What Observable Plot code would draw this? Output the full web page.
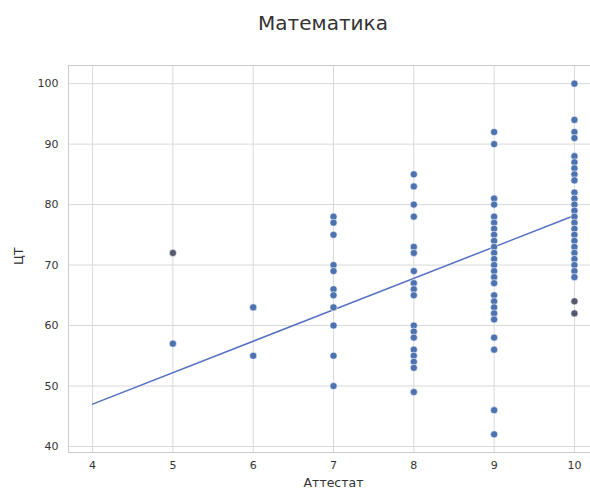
<!DOCTYPE html>
<html><head><meta charset="utf-8">
<script src="https://cdn.jsdelivr.net/npm/d3@7"></script>
<script src="https://cdn.jsdelivr.net/npm/@observablehq/plot@0.6"></script>
<style>
body{margin:0;background:#fff;font-family:"DejaVu Sans",sans-serif;}
#title{width:590px;height:50px;box-sizing:border-box;padding-left:56px;text-align:center;font-size:20px;line-height:46px;color:#333;}
</style></head><body>
<div id="title">Математика</div>
<div id="chart"></div>
<script>
// ЦТ scores per Аттестат grade (main colour)
const ct5 = [57];
const ct6 = [63, 55];
const ct7 = [78, 77, 75, 70, 69, 66, 65, 63, 60, 55, 50];
const ct8 = [85, 83, 80, 78, 73, 72, 69, 67, 66, 65, 60, 59, 58, 56, 55, 54, 53, 49];
const ct9 = [92, 90, 81, 80, 78, 77, 76, 75, 74, 73, 72, 71, 70, 69, 68, 67, 65, 64, 63, 62, 61, 58, 56, 46, 42];
const ct10 = [100, 94, 92, 91, 88, 87, 86, 85, 84, 82, 81, 80, 79, 78, 77, 76, 75, 74, 73, 72, 71, 70, 69, 68];
// darker (overlapping) points
const darkGrade = [5, 10, 10];
const darkCT = [72, 64, 62];
// regression line
const fitGrade = [4, 10];
const fitCT = [47, 78.2];
const xTicks = [4, 5, 6, 7, 8, 9, 10];
const yTicks = [40, 50, 60, 70, 80, 90, 100];

const groups = [[5, ct5], [6, ct6], [7, ct7], [8, ct8], [9, ct9], [10, ct10]];
const main = groups.flatMap(([g, arr]) => arr.map(v => ({x: g, y: v})));
const dark = darkGrade.map((g, i) => ({x: g, y: darkCT[i]}));
const fit = fitGrade.map((g, i) => ({x: g, y: fitCT[i]}));

const blue = "#4c72b0";
const chart = Plot.plot({
  width: 590, height: 442,
  marginLeft: 68, marginRight: 0, marginTop: 15, marginBottom: 40,
  style: {fontFamily: "DejaVu Sans, sans-serif", fontSize: "11px", color: "#333", background: "#fff"},
  x: {domain: [3.7, 10.2]},
  y: {domain: [39, 103]},
  marks: [
    Plot.gridX(xTicks, {stroke: "#d9d9d9", strokeOpacity: 1}),
    Plot.gridY(yTicks, {stroke: "#d9d9d9", strokeOpacity: 1}),
    Plot.frame({stroke: "#cccccc"}),
    Plot.axisX(xTicks, {tickSize: 0, tickPadding: 9, label: null, fontSize: 11}),
    Plot.axisY(yTicks, {tickSize: 0, tickPadding: 10, label: null, fontSize: 11}),
    Plot.line(fit, {x: "x", y: "y", stroke: "#5470c0", strokeWidth: 1.5}),
    Plot.dot(main, {x: "x", y: "y", r: 3.6, fill: blue, stroke: "#fff", strokeWidth: 0.6}),
    Plot.dot(dark, {x: "x", y: "y", r: 3.6, fill: "#555a6e", stroke: "#fff", strokeWidth: 0.6}),
    Plot.text(["Аттестат"], {frameAnchor: "bottom", dy: 34, dx: 4, fontSize: 12.5, fill: "#333"}),
    Plot.text(["ЦТ"], {frameAnchor: "left", dx: -50, dy: 6, rotate: -90, fontSize: 12.5, fill: "#333"})
  ]
});
document.getElementById("chart").appendChild(chart);
</script>
</body></html>
